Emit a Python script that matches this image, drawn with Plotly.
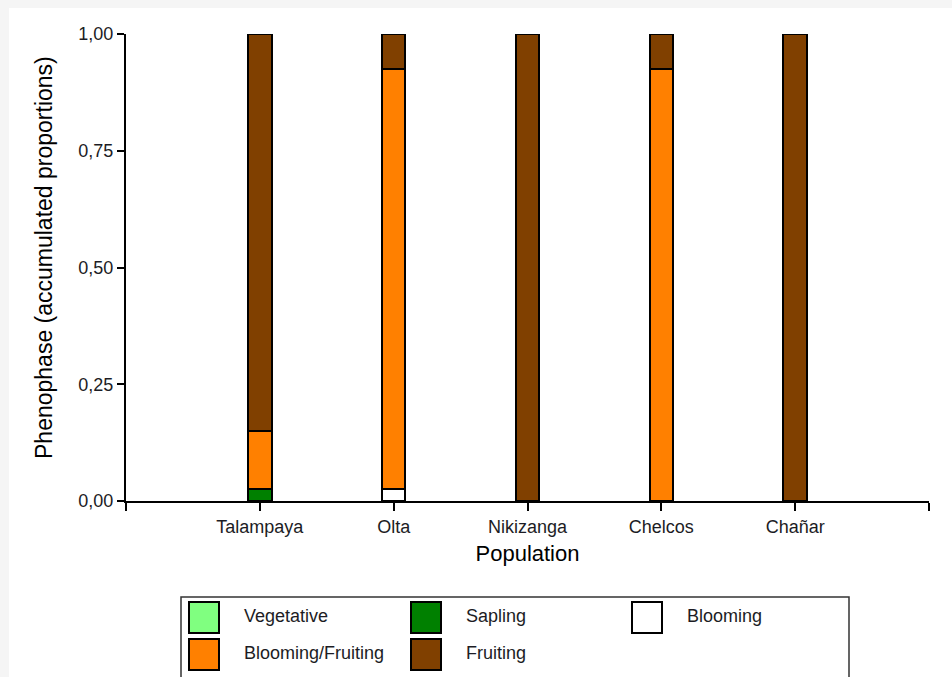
import plotly.graph_objects as go

# Populations sampled and the accumulated proportion of plants in each phenophase
populations = ["Talampaya", "Olta", "Nikizanga", "Chelcos", "Chañar"]
phases = ["Vegetative", "Sapling", "Blooming", "Blooming/Fruiting", "Fruiting"]
vegetative = [0.0, 0.0, 0.0, 0.0, 0.0]
sapling = [0.025, 0.0, 0.0, 0.0, 0.0]
blooming = [0.0, 0.025, 0.0, 0.0, 0.0]
blooming_fruiting = [0.125, 0.90, 0.0, 0.925, 0.0]
fruiting = [0.85, 0.075, 1.0, 0.075, 1.0]
y_ticks = [0.0, 0.25, 0.50, 0.75, 1.0]

series = [vegetative, sapling, blooming, blooming_fruiting, fruiting]
colors = ["#80FF80", "#008000", "#FFFFFF", "#FF8000", "#804000"]

FONT = "Liberation Sans, Arial, sans-serif"
TXT = "#1c1c24"

x_pos = list(range(1, len(populations) + 1))

fig = go.Figure()
for name, vals, col in zip(phases, series, colors):
    fig.add_trace(go.Bar(
        x=x_pos, y=vals, name=name, width=0.175,
        marker=dict(color=col, line=dict(color="black", width=2)),
        showlegend=False,
    ))

W, H = 952, 677
ml, mr, mt, mb = 126, 23, 34, 176
pw, ph = W - ml - mr, H - mt - mb


def px(x):
    return (x - ml) / pw


def py(y):
    return (H - mb - y) / ph


shapes = [
    # light page frame around the white figure area
    dict(type="rect", xref="paper", yref="paper", x0=px(-5), x1=px(9), y0=py(-5), y1=py(H + 5),
         fillcolor="#f5f5f5", line=dict(width=0), layer="below"),
    dict(type="rect", xref="paper", yref="paper", x0=px(-5), x1=px(W + 5), y0=py(-5), y1=py(8),
         fillcolor="#f5f5f5", line=dict(width=0), layer="below"),
    # legend frame
    dict(type="rect", xref="paper", yref="paper", x0=px(181), x1=px(849), y0=py(597), y1=py(700),
         fillcolor="rgba(0,0,0,0)", line=dict(color="#333", width=1.5)),
]

# y-axis title
annotations = [
    dict(xref="paper", yref="paper", x=px(44), y=py(258), textangle=-90,
         text="Phenophase (accumulated proportions)", showarrow=False,
         xanchor="center", yanchor="middle",
         font=dict(family=FONT, size=23, color="black")),
]

# legend: three columns, two rows
col_x = [189, 411, 632]
row_y = [602, 639]
for i, (name, col) in enumerate(zip(phases, colors)):
    r, c = divmod(i, 3)
    x0, y0 = col_x[c], row_y[r]
    shapes.append(dict(type="rect", xref="paper", yref="paper",
                       x0=px(x0), x1=px(x0 + 30), y0=py(y0), y1=py(y0 + 31),
                       fillcolor=col, line=dict(color="black", width=2)))
    annotations.append(dict(xref="paper", yref="paper", x=px(x0 + 53), y=py(y0 + 14),
                            text=name, showarrow=False, xanchor="left", yanchor="middle",
                            font=dict(family=FONT, size=18, color=TXT)))

fig.update_layout(
    width=W, height=H,
    margin=dict(l=ml, r=mr, t=mt, b=mb),
    paper_bgcolor="white", plot_bgcolor="white",
    barmode="stack", bargap=0,
    shapes=shapes, annotations=annotations,
    font=dict(family=FONT, color=TXT),
    xaxis=dict(
        range=[0, len(populations) + 1],
        tickvals=list(range(0, len(populations) + 2)),
        ticktext=[""] + populations + [""],
        showline=True, linecolor="black", linewidth=2,
        ticks="outside", ticklen=8, tickwidth=2, tickcolor="black",
        showgrid=False, zeroline=False,
        tickfont=dict(family=FONT, size=18, color=TXT),
        title=dict(text="Population", font=dict(family=FONT, size=22, color="black"), standoff=10),
    ),
    yaxis=dict(
        range=[0, 1],
        tickvals=y_ticks,
        ticktext=[f"{v:.2f}".replace(".", ",") for v in y_ticks],
        showline=True, linecolor="black", linewidth=2,
        ticks="outside", ticklen=7, tickwidth=2, tickcolor="black",
        showgrid=False, zeroline=False,
        tickfont=dict(family=FONT, size=18, color=TXT),
    ),
)

fig.write_html("out.html")
